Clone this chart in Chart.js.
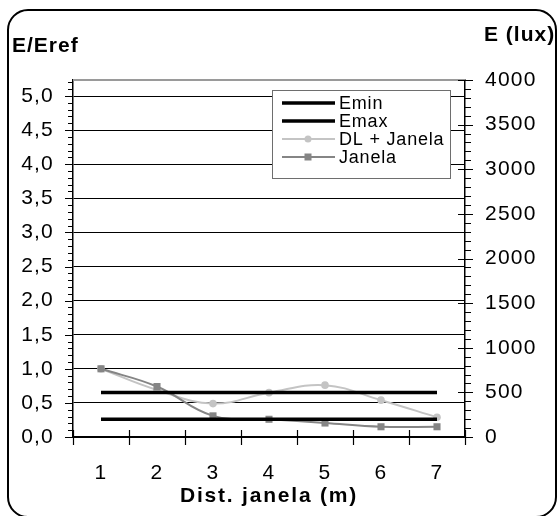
<!DOCTYPE html>
<html>
<head>
<meta charset="utf-8">
<script src="https://cdn.jsdelivr.net/npm/chart.js@4.4.0/dist/chart.umd.min.js"></script>
<style>
  html, body { margin: 0; padding: 0; background: #fff; }
  canvas { display: block; }
</style>
</head>
<body>
<canvas id="chart" width="557" height="516"></canvas>
<script>
// Distance from the window (m)
const distances = ['1', '2', '3', '4', '5', '6', '7'];
// Reference illuminance limits (lux, right axis)
const eminLux = [200, 200, 200, 200, 200, 200, 200];
const emaxLux = [500, 500, 500, 500, 500, 500, 500];
// Relative illuminance E/Eref (left axis)
const dlJanela = [1.00, 0.69, 0.49, 0.65, 0.76, 0.54, 0.29];
const janela   = [1.00, 0.74, 0.31, 0.26, 0.205, 0.15, 0.15];
// Axis ranges
const ratioMax = 5.235;
const luxMax = 4000;
const ratioStep = 0.5;
const luxStep = 500;

const FONT = '"Liberation Sans", Arial, sans-serif';

const seriesStyle = {
  'Emin':        { color: '#000000', width: 3.5, marker: null },
  'Emax':        { color: '#000000', width: 3.5, marker: null },
  'DL + Janela': { color: '#c4c4c4', width: 2,   marker: 'circle' },
  'Janela':      { color: '#858585', width: 2,   marker: 'rect' }
};

const decor = {
  id: 'decor',
  beforeDraw(chart) {
    const ctx = chart.ctx;
    ctx.save();
    ctx.fillStyle = '#fff';
    ctx.fillRect(0, 0, chart.width, chart.height);
    ctx.beginPath();
    ctx.roundRect(8, 10, 548, 507, 20);
    ctx.lineWidth = 2;
    ctx.strokeStyle = '#000';
    ctx.stroke();
    ctx.restore();
    ctx.letterSpacing = '1.2px';
  },
  afterDraw(chart) {
    const ctx = chart.ctx;
    ctx.letterSpacing = '0px';
    const a = chart.chartArea;
    const yL = chart.scales.y, yR = chart.scales.y2, xs = chart.scales.x;
    ctx.save();
    // top edge of plot area
    ctx.strokeStyle = '#9a9a9a';
    ctx.lineWidth = 2;
    ctx.beginPath();
    ctx.moveTo(a.left, a.top);
    ctx.lineTo(a.right, a.top);
    ctx.stroke();

    ctx.strokeStyle = '#000';
    ctx.lineWidth = 1;
    // left axis ticks (0.1 minor, 0.5 major)
    for (let k = 0; k <= 52; k++) {
      const v = k / 10;
      const y = Math.round(yL.getPixelForValue(v)) + 0.5;
      const major = k % 5 === 0;
      ctx.beginPath();
      ctx.moveTo(a.left - (major ? 8 : 5), y);
      ctx.lineTo(a.left, y);
      ctx.stroke();
    }
    // right axis ticks (100 minor, 500 major)
    for (let v = 0; v <= luxMax; v += 100) {
      const y = Math.round(yR.getPixelForValue(v)) + 0.5;
      const major = v % luxStep === 0;
      ctx.beginPath();
      ctx.moveTo(a.right - (major ? 7 : 0), y);
      ctx.lineTo(a.right + (major ? 8 : 6), y);
      ctx.stroke();
    }
    // x axis ticks at category boundaries
    ctx.lineWidth = 1.2;
    const n = distances.length;
    for (let i = 0; i <= n; i++) {
      const x = Math.round(xs.left + i * xs.width / n) + 0.5;
      ctx.beginPath();
      ctx.moveTo(x, a.bottom - 7);
      ctx.lineTo(x, a.bottom + 8);
      ctx.stroke();
    }

    // axis titles
    ctx.fillStyle = '#000';
    ctx.textBaseline = 'alphabetic';
    ctx.font = 'bold 21px ' + FONT;
    ctx.letterSpacing = '1px';
    ctx.textAlign = 'left';
    ctx.fillText('E/Eref', 12, 52);
    ctx.fillText('E (lux)', 484, 41);
    ctx.letterSpacing = '1.8px';
    ctx.textAlign = 'center';
    ctx.fillText('Dist. janela (m)', 269, 502);

    // legend
    const lx = 272, ly = 90, lw = 178, lh = 88;
    ctx.letterSpacing = '0.8px';
    ctx.fillStyle = '#fff';
    ctx.fillRect(lx, ly, lw, lh);
    ctx.strokeStyle = '#6e6e6e';
    ctx.lineWidth = 1;
    ctx.strokeRect(lx + 0.5, ly + 0.5, lw, lh);
    const rows = [103, 121, 139, 157];
    ctx.font = '18px ' + FONT;
    ctx.textAlign = 'left';
    ctx.textBaseline = 'middle';
    chart.data.datasets.forEach((ds, i) => {
      const st = seriesStyle[ds.label];
      const y = rows[i];
      ctx.strokeStyle = st.color;
      ctx.lineWidth = st.width;
      ctx.beginPath();
      ctx.moveTo(282, y);
      ctx.lineTo(335, y);
      ctx.stroke();
      ctx.fillStyle = st.color;
      if (st.marker === 'circle') {
        ctx.beginPath();
        ctx.arc(308, y, 3.5, 0, Math.PI * 2);
        ctx.fill();
      } else if (st.marker === 'rect') {
        ctx.fillRect(304.5, y - 3.5, 7, 7);
      }
      ctx.fillStyle = '#000';
      ctx.fillText(ds.label, 339, y + 1);
    });
    ctx.restore();
  }
};

new Chart(document.getElementById('chart'), {
  type: 'line',
  data: {
    labels: distances,
    datasets: [
      { label: 'Emin', data: eminLux, yAxisID: 'y2', borderColor: '#000', borderWidth: 3.5,
        pointRadius: 0, tension: 0, order: 0 },
      { label: 'Emax', data: emaxLux, yAxisID: 'y2', borderColor: '#000', borderWidth: 3.5,
        pointRadius: 0, tension: 0, order: 0 },
      { label: 'DL + Janela', data: dlJanela, yAxisID: 'y', borderColor: '#c4c4c4',
        backgroundColor: '#c4c4c4', borderWidth: 2, pointStyle: 'circle', pointRadius: 3.8,
        pointBorderWidth: 0, tension: 0.4, order: 2 },
      { label: 'Janela', data: janela, yAxisID: 'y', borderColor: '#858585',
        backgroundColor: '#858585', borderWidth: 2, pointStyle: 'rect', pointRadius: 5,
        pointBorderWidth: 0, tension: 0.4, order: 1 }
    ]
  },
  options: {
    responsive: false,
    devicePixelRatio: 1,
    animation: false,
    layout: { padding: { top: 80, left: 0, right: 0, bottom: 0 } },
    plugins: { legend: { display: false }, tooltip: { enabled: false }, title: { display: false } },
    scales: {
      x: {
        type: 'category',
        offset: true,
        grid: { display: false },
        border: { display: true, color: '#000', width: 2 },
        ticks: { color: '#000', font: { family: FONT, size: 21 }, padding: 16, maxRotation: 0 },
        afterFit(s) { s.height = 79; }
      },
      y: {
        position: 'left',
        min: 0,
        max: ratioMax,
        grid: { color: '#000', lineWidth: 1, drawTicks: false },
        border: { display: true, color: '#000', width: 1.5 },
        ticks: {
          stepSize: ratioStep,
          includeBounds: false,
          color: '#000',
          padding: 19,
          font: { family: FONT, size: 21 },
          callback: v => v.toFixed(1).replace('.', ',')
        },
        afterFit(s) { s.width = 73; }
      },
      y2: {
        position: 'right',
        min: 0,
        max: luxMax,
        grid: { display: false, drawTicks: false, drawOnChartArea: false },
        border: { display: true, color: '#000', width: 1.5 },
        ticks: {
          stepSize: luxStep,
          color: '#000',
          padding: 20,
          font: { family: FONT, size: 21 },
          callback: v => String(v)
        },
        afterFit(s) { s.width = 92; }
      }
    }
  },
  plugins: [decor]
});
</script>
</body>
</html>
